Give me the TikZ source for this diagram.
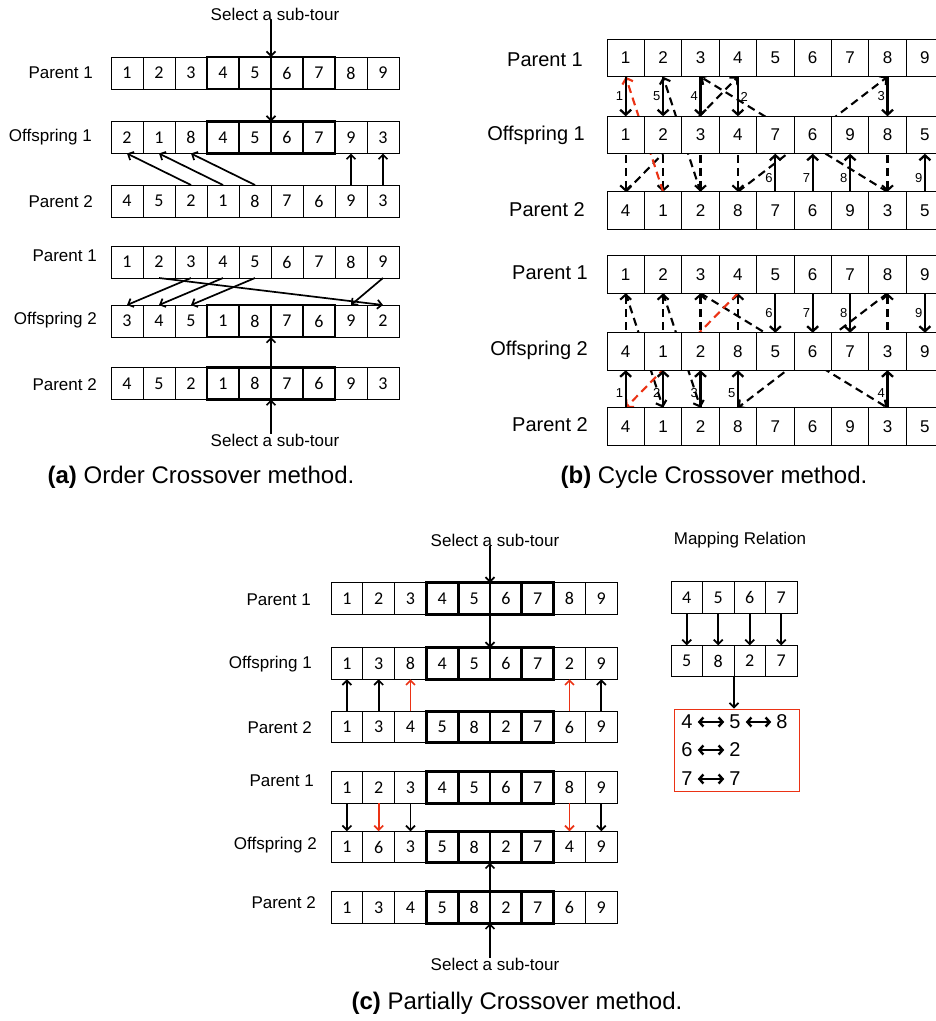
\documentclass[tikz,border=0pt]{standalone}
\usepackage{fontspec}
\setmainfont{Liberation Sans}
\newfontfamily\carl{Carlito}
\usetikzlibrary{arrows.meta}
\pgfdeclarelayer{background}
\pgfsetlayers{background,main}
\definecolor{myred}{RGB}{235,50,20}
\def\cw{32}\def\ch{32}
\newcommand\mkrow[7]{%
  \foreach \v [count=\i] in {#4} {%
    \node[cell,#7] (#1-\i) at ({#2+(\i-0.5)*\cw},#3) {\v};
  }%
  \ifnum#5>0
    \foreach \j in {#5,...,#6} {%
      \draw[boldline] (#1-\j.north west) rectangle (#1-\j.south east);
    }%
  \fi
}
\begin{document}
\begin{tikzpicture}[x=1pt,y=-1pt,
  cell/.style={draw, fill=white, line width=0.8pt, minimum width=\cw pt, minimum height=\ch pt, inner sep=0pt, outer sep=0pt},
  boldline/.style={line width=2.8pt, line join=miter},
  afont/.style={font=\carl\fontsize{18}{21}\selectfont},
  bfont/.style={font=\fontsize{17}{20}\selectfont},
  lab/.style={font=\fontsize{17}{20}\selectfont, inner sep=0pt},
  labB/.style={font=\fontsize{20}{23}\selectfont, inner sep=0pt},
  captxt/.style={font=\fontsize{24}{28}\selectfont, inner sep=0pt},
  arr/.style={line width=1.7pt, -{Straight Barb[length=4.5pt,width=9pt]}},
  barr/.style={line width=2.3pt, -{Straight Barb[length=5pt,width=11pt]}},
  darr/.style={line width=2.1pt, dash pattern=on 8pt off 5pt, -{Straight Barb[length=5pt,width=11pt]}},
  num/.style={font=\fontsize{13}{15}\selectfont, inner sep=1.5pt},
  mtxt/.style={font=\fontsize{20}{23}\selectfont, inner sep=5pt},
  dbl/.style={line width=2.4pt, {Straight Barb[length=4pt,width=9pt]}-{Straight Barb[length=4pt,width=9pt]}}
]
\begin{pgfonlayer}{background}
\fill[white] (0,0) rectangle (936,1021);
\end{pgfonlayer}
\useasboundingbox (0,0) rectangle (936,1021);

% ---------------- (a) Order crossover
\def\cw{32}\def\ch{32}
\mkrow{aP1}{111}{73}{1,...,9}{4}{7}{afont}
\mkrow{aO1}{111}{137.5}{2,1,8,4,5,6,7,9,3}{4}{7}{afont}
\mkrow{aP2}{111}{201}{4,5,2,1,8,7,6,9,3}{0}{0}{afont}
\mkrow{aQ1}{111}{262}{1,...,9}{0}{0}{afont}
\mkrow{aO2}{111}{321}{3,4,5,1,8,7,6,9,2}{4}{7}{afont}
\mkrow{aQ2}{111}{383.5}{4,5,2,1,8,7,6,9,3}{4}{7}{afont}
\node[lab, anchor=east] (aLP1) at (93,73) {Parent 1};
\node[lab, anchor=east] (aLO1) at (92,137) {Offspring 1};
\node[lab, anchor=east] (aLP2) at (93,202) {Parent 2};
\node[lab, anchor=east] (aLQ1) at (97,256) {Parent 1};
\node[lab, anchor=east] (aLO2) at (97,320) {Offspring 2};
\node[lab, anchor=east] (aLQ2) at (97,385) {Parent 2};
\node[lab] (aSel) at (275,14) {Select a sub-tour};
\draw[arr] (aSel.south -| aP1-5.north east) -- (aP1-5.north east);
\draw[arr] (aP1-5.south east) -- (aO1-5.north east);
\foreach \s/\t in {3/1,4/2,5/3,8/8,9/9} \draw[arr] (aP2-\s.north) -- (aO1-\t.south);
\foreach \s/\t in {2/9,3/1,4/2,5/3,9/8} \draw[arr] (aQ1-\s.south) -- (aO2-\t.north);
\node[lab] (aSel2) at (275,440) {Select a sub-tour};
\draw[arr] (aSel2.north -| aQ2-5.south east) -- (aQ2-5.south east);
\draw[arr] (aQ2-5.north east) -- (aO2-5.south east);
\node[captxt] (capA) at (201,477) {\textbf{(a)} Order Crossover method.};

% ---------------- (b) Cycle crossover
\def\cw{37.4}\def\ch{37.5}
\mkrow{bP1}{607}{58}{1,...,9}{0}{0}{bfont}
\mkrow{bO1}{607}{135}{1,2,3,4,7,6,9,8,5}{0}{0}{bfont}
\mkrow{bP2}{607}{210.5}{4,1,2,8,7,6,9,3,5}{0}{0}{bfont}
\mkrow{bQ1}{607}{274.5}{1,...,9}{0}{0}{bfont}
\mkrow{bO2}{607}{351.5}{4,1,2,8,5,6,7,3,9}{0}{0}{bfont}
\mkrow{bQ2}{607}{426.5}{4,1,2,8,7,6,9,3,5}{0}{0}{bfont}
\node[labB, anchor=east] (bLP1) at (583,60) {Parent 1};
\node[labB, anchor=east] (bLO1) at (585,135) {Offspring 1};
\node[labB, anchor=east] (bLP2) at (585,210) {Parent 2};
\node[labB, anchor=east] (bLQ1) at (588,273) {Parent 1};
\node[labB, anchor=east] (bLO2) at (588,350) {Offspring 2};
\node[labB, anchor=east] (bLQ2) at (588,425) {Parent 2};
\begin{pgfonlayer}{background}
\foreach \i in {1,2,3,4,8} \draw[darr] (bP1-\i.south) -- (bP2-\i.north);
\foreach \s/\t in {1/4,4/8,8/3,3/2} \draw[darr] (bP2-\s.north) -- (bP1-\t.south);
\draw[darr,draw=myred] (bP2-2.north) -- (bP1-1.south);
\foreach \i in {1,2,3,4,8} \draw[darr] (bQ2-\i.north) -- (bQ1-\i.south);
\foreach \s/\t in {1/2,2/3,3/8,8/4} \draw[darr] (bQ1-\s.south) -- (bQ2-\t.north);
\draw[darr,draw=myred] (bQ1-4.south) -- (bQ2-1.north);
\end{pgfonlayer}
\foreach \i/\l/\a in {1/1/east,2/5/east,3/4/east,4/2/west,8/3/east}
  \draw[barr] (bP1-\i.south) -- node[num,anchor=\a] {\l} (bO1-\i.north);
\foreach \i/\l in {5/6,6/7,7/8,9/9}
  \draw[barr] (bP2-\i.north) -- node[num,anchor=east,pos=0.35] {\l} (bO1-\i.south);
\foreach \i/\l in {1/1,2/2,3/3,4/5,8/4}
  \draw[barr] (bQ2-\i.north) -- node[num,anchor=east,pos=0.4] {\l} (bO2-\i.south);
\foreach \i/\l in {5/6,6/7,7/8,9/9}
  \draw[barr] (bQ1-\i.south) -- node[num,anchor=east] {\l} (bO2-\i.north);
\node[captxt] (capB) at (714,477) {\textbf{(b)} Cycle Crossover method.};

% ---------------- (c) Partially mapped crossover
\def\cw{31.8}\def\ch{31.5}
\mkrow{cP1}{331}{598.5}{1,...,9}{4}{7}{afont}
\mkrow{cO1}{331}{663.5}{1,3,8,4,5,6,7,2,9}{4}{7}{afont}
\mkrow{cP2}{331}{727}{1,3,4,5,8,2,7,6,9}{4}{7}{afont}
\mkrow{cQ1}{331}{787.5}{1,...,9}{4}{7}{afont}
\mkrow{cO2}{331}{847}{1,6,3,5,8,2,7,4,9}{4}{7}{afont}
\mkrow{cQ2}{331}{907.5}{1,3,4,5,8,2,7,6,9}{4}{7}{afont}
\node[lab, anchor=east] (cLP1) at (311,600) {Parent 1};
\node[lab, anchor=east] (cLO1) at (312,664) {Offspring 1};
\node[lab, anchor=east] (cLP2) at (312,728) {Parent 2};
\node[lab, anchor=east] (cLQ1) at (314,781) {Parent 1};
\node[lab, anchor=east] (cLO2) at (317,845) {Offspring 2};
\node[lab, anchor=east] (cLQ2) at (316,903) {Parent 2};
\node[lab] (cSel) at (495,540) {Select a sub-tour};
\draw[arr] (cSel.south -| cP1-5.north east) -- (cP1-5.north east);
\draw[arr] (cP1-5.south east) -- (cO1-5.north east);
\foreach \i/\c in {1/black,2/black,3/myred,8/myred,9/black}
  \draw[arr,draw=\c] (cP2-\i.north) -- (cO1-\i.south);
\foreach \i/\c in {1/black,2/myred,3/black,8/myred,9/black}
  \draw[arr,draw=\c] (cQ1-\i.south) -- (cO2-\i.north);
\node[lab] (cSel2) at (495,964) {Select a sub-tour};
\draw[arr] (cSel2.north -| cQ2-5.south east) -- (cQ2-5.south east);
\draw[arr] (cQ2-5.north east) -- (cO2-5.south east);
\node[captxt] (capC) at (517,1003) {\textbf{(c)} Partially Crossover method.};

% mapping relation
\def\cw{31.5}\def\ch{31.5}
\node[lab] (mLab) at (740,540) {Mapping Relation};
\mkrow{mT}{671}{597.5}{4,5,6,7}{0}{0}{afont}
\mkrow{mB}{671}{661}{5,8,2,7}{0}{0}{afont}
\foreach \i in {1,...,4} \draw[arr] (mT-\i.south) -- (mB-\i.north);
\node[draw=myred, line width=0.9pt, minimum width=125pt, minimum height=82pt, inner sep=0pt] (mBox) at (736.5,750) {};
\draw[arr] (mB-2.south east) -- (mB-2.south east |- mBox.north);
\node[mtxt] (r1a) at (687,722) {4};
\node[mtxt] (r1b) at (735,722) {5};
\node[mtxt] (r1c) at (782,722) {8};
\node[mtxt] (r2a) at (687,750) {6};
\node[mtxt] (r2b) at (735,750) {2};
\node[mtxt] (r3a) at (687,779) {7};
\node[mtxt] (r3b) at (735,779) {7};
\draw[dbl] (r1a) -- (r1b);
\draw[dbl] (r1b) -- (r1c);
\draw[dbl] (r2a) -- (r2b);
\draw[dbl] (r3a) -- (r3b);
\end{tikzpicture}
\end{document}
